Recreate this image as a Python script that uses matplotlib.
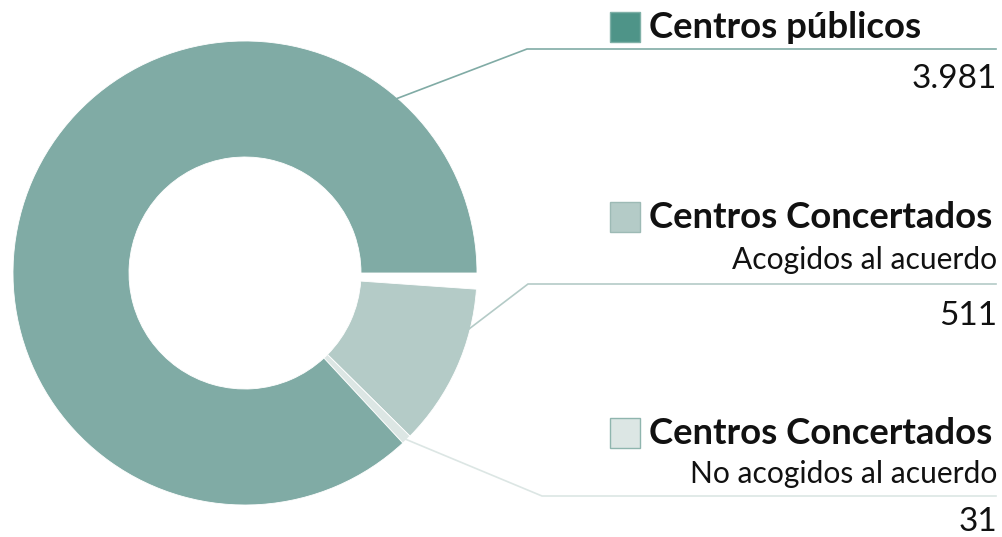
import numpy as np
import matplotlib.pyplot as plt
from matplotlib.patches import Rectangle

plt.rcParams['font.family'] = ['Lato', 'DejaVu Sans']

# data
labels = ['Centros públicos', 'Centros Concertados', 'Centros Concertados']
sublabels = ['', 'Acogidos al acuerdo', 'No acogidos al acuerdo']
values = [3981, 511, 31]
value_text = ['3.981', '511', '31']

pie_colors = ['#80aba5', '#b4cbc7', '#dce6e4']
box_colors = ['#4e9488', '#b4cbc7', '#dce6e4']
box_edges = ['#7fb0a7', '#9dbab5', '#8fb5ae']
line_colors = ['#80aba5', '#b4cbc7', '#dce6e4']

W, H = 1002, 537
fig = plt.figure(figsize=(W / 100, H / 100), dpi=100)

# donut (drawn clockwise from just below 3 o'clock)
cx, cy, R = 245, 273, 232
ax = fig.add_axes([(cx - R) / W, (H - cy - R) / H, 2 * R / W, 2 * R / H])
order = [1, 2, 0]
wedges, _ = ax.pie([values[i] for i in order], colors=[pie_colors[i] for i in order],
                   startangle=-4, counterclock=False, radius=1,
                   wedgeprops=dict(width=0.5, edgecolor='white', linewidth=0.6))
# leave the small gap between the public slice and the concertados slice
wedges[2].set_theta1(-360)
ax.set_xlim(-1, 1)
ax.set_ylim(-1, 1)
ax.set_aspect('equal')
ax.axis('off')

# overlay in pixel coordinates for labels and leader lines
ov = fig.add_axes([0, 0, 1, 1], zorder=5)
ov.set_xlim(0, W)
ov.set_ylim(H, 0)
ov.axis('off')
ov.patch.set_alpha(0)

start_ang = [49, -14, -46]
elbows = [(527, 49), (528, 284), (542, 496)]
title_y = [38, 228, 444]
sub_y = [None, 269, 483]
num_y = [88, 325, 531]

for i in range(3):
    a = np.deg2rad(start_ang[i])
    sx, sy = cx + 231 * np.cos(a), cy - 231 * np.sin(a)
    ex, ey = elbows[i]
    ov.plot([sx, ex, 996], [sy, ey, ey], color=line_colors[i], lw=1.2,
            solid_joinstyle='miter')
    top = title_y[i] - 26
    ov.add_patch(Rectangle((610, top), 30, 30, facecolor=box_colors[i],
                           edgecolor=box_edges[i], lw=1))
    ov.text(649, title_y[i], labels[i], fontsize=26.3, fontweight='bold',
            color='#111111', ha='left', va='baseline')
    if sublabels[i]:
        ov.text(997, sub_y[i], sublabels[i], fontsize=21.6, color='#111111',
                ha='right', va='baseline')
    ov.text(997, num_y[i], value_text[i], fontsize=24, color='#111111',
            ha='right', va='baseline')

fig.savefig('out.png', dpi=100)
